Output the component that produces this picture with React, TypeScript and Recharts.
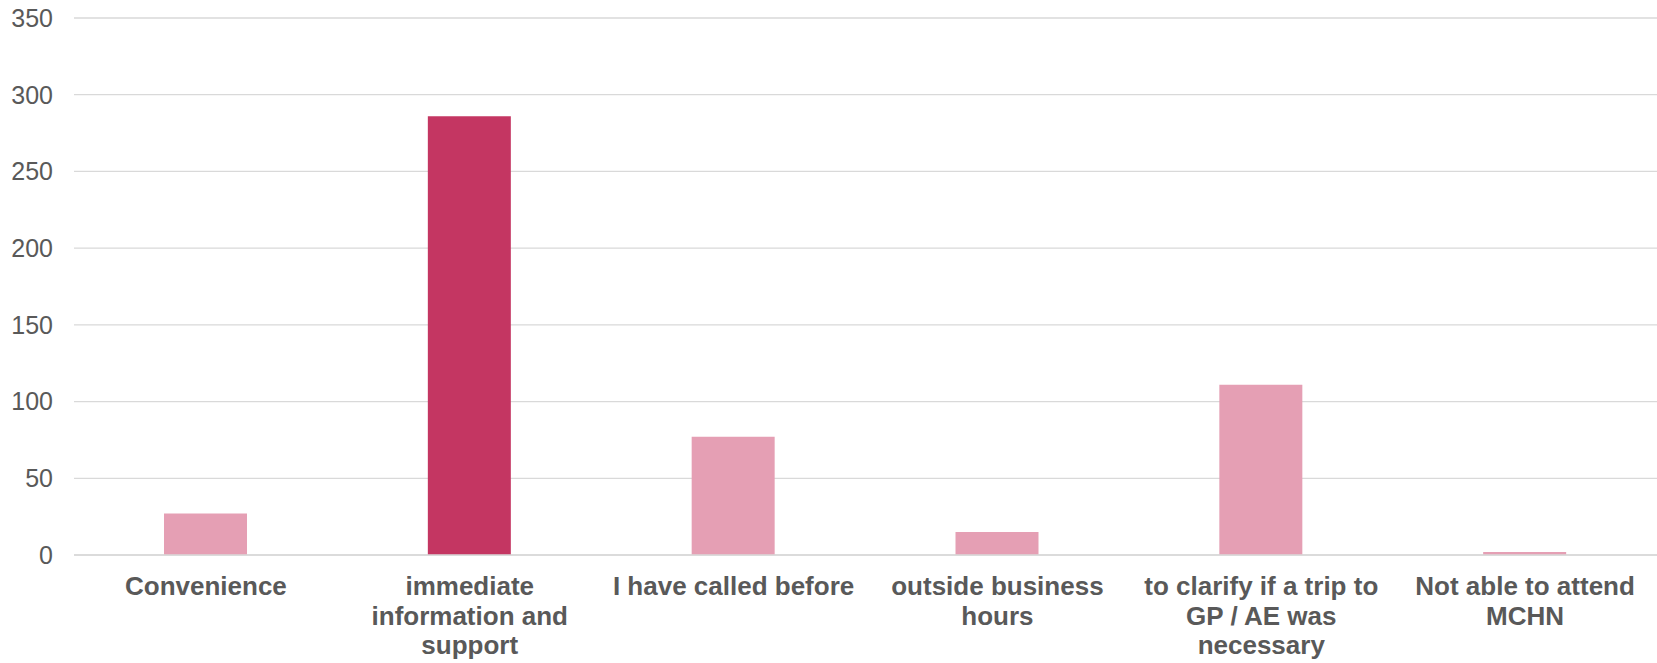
import { BarChart, Bar, XAxis, YAxis, CartesianGrid, Cell } from "recharts";

const categories = [
  "Convenience",
  "immediate information and support",
  "I have called before",
  "outside business hours",
  "to clarify if a trip to GP / AE was necessary",
  "Not able to attend MCHN",
];

const responses = [27, 286, 77, 15, 111, 2];

const yTicks = [0, 50, 100, 150, 200, 250, 300, 350];

const highlighted = "immediate information and support";

const data = categories.map((name, i) => ({ name, value: responses[i] }));

const FONT = '"Liberation Sans", Arial, sans-serif';
const LABEL_SIZE = 26;
const WRAP_WIDTH = 250;

let ctx: CanvasRenderingContext2D | null = null;
const measure = (s: string) => {
  if (!ctx) ctx = document.createElement("canvas").getContext("2d");
  if (!ctx) return s.length * LABEL_SIZE * 0.55;
  ctx.font = `bold ${LABEL_SIZE}px ${FONT}`;
  return ctx.measureText(s).width;
};

// simple greedy word wrap
const wrap = (label: string) => {
  const lines: string[] = [];
  let cur = "";
  label.split(" ").forEach((w) => {
    const next = cur ? cur + " " + w : w;
    if (cur && measure(next) > WRAP_WIDTH) {
      lines.push(cur);
      cur = w;
    } else {
      cur = next;
    }
  });
  if (cur) lines.push(cur);
  return lines;
};

const CategoryTick = (props: any) => {
  const { x, y, payload } = props;
  const lines = wrap(String(payload.value));
  return (
    <text
      x={x}
      y={y + 40}
      textAnchor="middle"
      fontSize={LABEL_SIZE}
      fontWeight="bold"
      fontFamily={FONT}
      fill="#595959"
    >
      {lines.map((line, i) => (
        <tspan key={i} x={x} dy={i === 0 ? 0 : 29.6}>
          {line}
        </tspan>
      ))}
    </text>
  );
};

export default function App() {
  return (
    <div>
      <style>{`body{margin:0;}`}</style>
      <BarChart
        width={1657}
        height={663}
        data={data}
        margin={{ top: 18, right: 0, bottom: 0, left: 0 }}
      >
        <CartesianGrid
          vertical={false}
          stroke="#D9D9D9"
          strokeWidth={1.3}
        />
        <XAxis
          dataKey="name"
          height={108}
          interval={0}
          tickLine={false}
          tickSize={0}
          tickMargin={0}
          axisLine={{ stroke: "#D9D9D9", strokeWidth: 1.3 }}
          tick={<CategoryTick />}
        />
        <YAxis
          width={74}
          domain={[0, 350]}
          ticks={yTicks}
          axisLine={false}
          tickLine={false}
          tickSize={0}
          tickMargin={21}
          tick={{ fontSize: 25, fill: "#595959", fontFamily: FONT }}
        />
        <Bar dataKey="value" barSize={83} isAnimationActive={false}>
          {data.map((d, index) => (
            <Cell
              key={`cell-${index}`}
              fill={d.name === highlighted ? "#C43662" : "#E59FB4"}
            />
          ))}
        </Bar>
      </BarChart>
    </div>
  );
}
